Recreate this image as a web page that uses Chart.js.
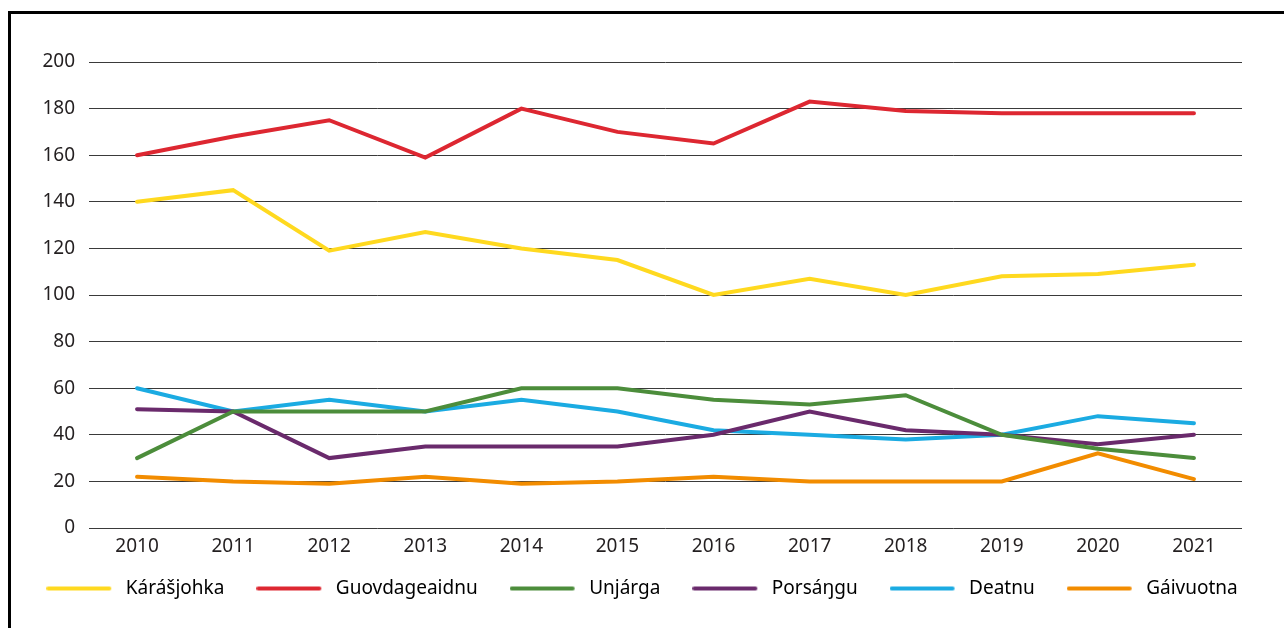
<!DOCTYPE html>
<html>
<head>
<meta charset="utf-8">
<script src="https://cdn.jsdelivr.net/npm/chart.js@4"></script>
<style>
  html, body { margin: 0; padding: 0; background: #fff; }
  #wrap { position: relative; width: 1284px; height: 628px; }
  #frame { position: absolute; left: 8px; top: 11px; right: 0; bottom: 0;
           border-top: 3px solid #000; border-left: 3px solid #000; }
  canvas { position: absolute; left: 0; top: 0; }
</style>
</head>
<body>
<div id="wrap">
  <div id="frame"></div>
  <canvas id="chart" width="1284" height="628"></canvas>
</div>
<script>
const years = ["2010", "2011", "2012", "2013", "2014", "2015", "2016", "2017", "2018", "2019", "2020", "2021"];

const karasjohka    = [140, 145, 119, 127, 120, 115, 100, 107, 100, 108, 109, 113];
const guovdageaidnu = [160, 168, 175, 159, 180, 170, 165, 183, 179, 178, 178, 178];
const unjarga       = [30, 50, 50, 50, 60, 60, 55, 53, 57, 40, 34, 30];
const porsangu      = [51, 50, 30, 35, 35, 35, 40, 50, 42, 40, 36, 40];
const deatnu        = [60, 50, 55, 50, 55, 50, 42, 40, 38, 40, 48, 45];
const gaivuotna     = [22, 20, 19, 22, 19, 20, 22, 20, 20, 20, 32, 21];

const yTicks = [0, 20, 40, 60, 80, 100, 120, 140, 160, 180, 200];

const FONT = "'Noto Sans', sans-serif";

// little line swatch for the legend (line + a bit of empty space before the text)
function swatch(color) {
  const c = document.createElement("canvas");
  c.width = 70;
  c.height = 8;
  const g = c.getContext("2d");
  g.strokeStyle = color;
  g.lineWidth = 4;
  g.lineCap = "round";
  g.beginPath();
  g.moveTo(2, 4);
  g.lineTo(63, 4);
  g.stroke();
  return c;
}

function series(label, data, color) {
  return {
    label: label,
    data: data,
    borderColor: color,
    backgroundColor: color,
    borderWidth: 4,
    pointRadius: 0,
    tension: 0,
    borderCapStyle: "round",
    borderJoinStyle: "miter"
  };
}

const ctx = document.getElementById("chart").getContext("2d");
new Chart(ctx, {
  type: "line",
  data: {
    labels: years,
    datasets: [
      series("Kárášjohka", karasjohka, "#FFD91F"),
      series("Guovdageaidnu", guovdageaidnu, "#DD2731"),
      series("Unjárga", unjarga, "#4C8D3B"),
      series("Porsáŋgu", porsangu, "#6A2A6C"),
      series("Deatnu", deatnu, "#1BABE2"),
      series("Gáivuotna", gaivuotna, "#F28C00")
    ]
  },
  options: {
    responsive: false,
    animation: false,
    layout: { padding: { left: 0, right: 0, top: 62, bottom: 20 } },
    plugins: {
      tooltip: { enabled: false },
      legend: {
        position: "bottom",
        labels: {
          usePointStyle: true,
          pointStyleWidth: 70,
          boxHeight: 19,
          padding: 32,
          color: "#231F20",
          font: { family: FONT, size: 19 },
          generateLabels: chart => chart.data.datasets.map((ds, i) => ({
            text: ds.label,
            fillStyle: ds.borderColor,
            strokeStyle: ds.borderColor,
            lineWidth: 0,
            pointStyle: swatch(ds.borderColor),
            datasetIndex: i
          }))
        }
      }
    },
    scales: {
      x: {
        offset: true,
        grid: { display: false, drawTicks: false },
        border: { display: false },
        ticks: { color: "#231F20", font: { family: FONT, size: 19 }, padding: 7 },
        afterFit: s => {
          s.height = 19;
          s._computeLabelArea = () => undefined; // don't clip the year labels
        }
      },
      y: {
        min: 0,
        max: 200,
        afterBuildTicks: s => { s.ticks = yTicks.map(v => ({ value: v })); },
        grid: { color: "#3a3a3a", lineWidth: 1, drawTicks: false },
        border: { display: false },
        ticks: { color: "#231F20", font: { family: FONT, size: 19 }, padding: 14 },
        afterFit: s => { s.width = 89; }
      },
      // empty strip on the right so the legend gets the full width
      pad: {
        type: "linear",
        position: "right",
        grid: { display: false, drawTicks: false },
        border: { display: false },
        ticks: { display: false },
        afterFit: s => { s.width = 42; }
      }
    }
  }
});
</script>
</body>
</html>
